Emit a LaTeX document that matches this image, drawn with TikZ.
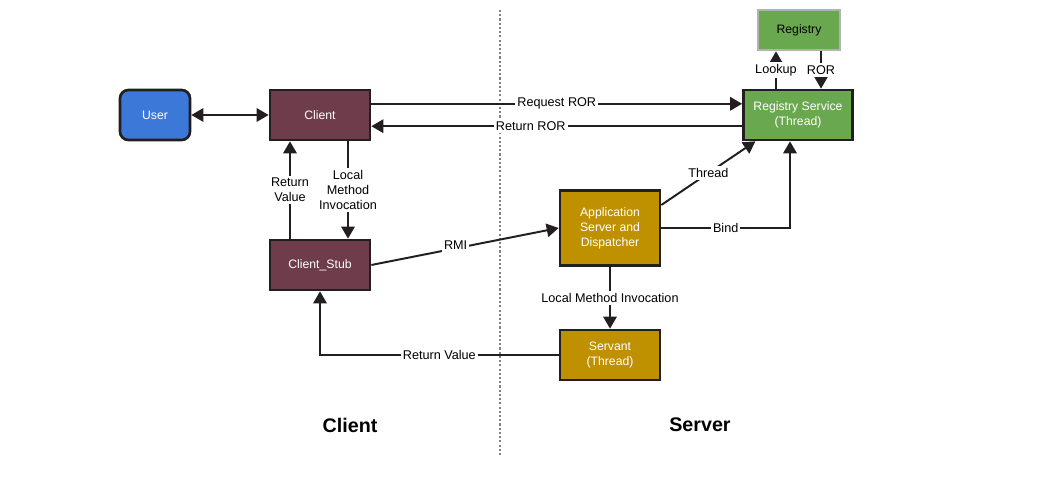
\documentclass[tikz,border=0pt]{standalone}
\usepackage{fontspec}
\setmainfont{Liberation Sans}
\usetikzlibrary{arrows.meta, positioning, calc}
\definecolor{RmiDark}{HTML}{231F20}
\definecolor{RmiBlue}{HTML}{3C78D8}
\definecolor{RmiMaroon}{HTML}{6E3C4A}
\definecolor{RmiGreen}{HTML}{6AA84F}
\definecolor{RmiGold}{HTML}{BF9000}

\begin{document}
\begin{tikzpicture}[x=0.025cm, y=-0.025cm, >={Triangle[length=8.5pt, width=9.5pt]},
        box/.style={rectangle, draw=RmiDark, line width=1.9pt, text=white, align=center,
            font=\fontsize{8.7}{10.6}\selectfont, minimum width=2.5cm, minimum height=1.25cm, inner sep=2pt},
        arrow/.style={->, line width=1.4pt, RmiDark},
        lbl/.style={fill=white, inner sep=1.5pt, text=black, font=\fontsize{9}{10.6}\selectfont, align=center}]

        \useasboundingbox (0,0) rectangle (1054,477);

        \node[box, fill=RmiBlue, rounded corners=6pt, minimum width=1.75cm] (user) at (155,115) {User};
        \node[box, fill=RmiMaroon] (cli) at (320,115) {Client};
        \node[box, fill=RmiMaroon] (stub) at (320,265) {Client\_Stub};

        \node[box, fill=RmiGreen, minimum width=2.725cm] (regsvc) at (798,115) {Registry Service\\(Thread)};
        \node[box, fill=RmiGreen, draw=black!30, text=black, minimum width=2.05cm, minimum height=1cm] (reg) at (799,30) {Registry};
        \node[box, fill=RmiGold, minimum height=1.875cm] (app) at (610,228) {Application\\Server and\\Dispatcher};
        \node[box, fill=RmiGold] (srvnt) at (610,355) {Servant\\(Thread)};

        \draw[black!50, line width=2pt, dash pattern=on 1.5pt off 1.5pt] (500,10) -- (500,455);
        \node[font=\fontsize{14}{16}\selectfont\bfseries] (clilbl) at (350,425) {Client};
        \node[font=\fontsize{14}{16}\selectfont\bfseries] (srvlbl) at (700,425) {Server};

        \draw[arrow, <->] (user) -- (cli);
        \draw[arrow] ([yshift=.28cm]cli.east) -- node[lbl] {Request ROR} ([yshift=.28cm]regsvc.west);
        \draw[arrow] ([yshift=-.28cm]regsvc.west) -- node[lbl, pos=.57] {Return ROR} ([yshift=-.28cm]cli.east);
        \draw[arrow] ([xshift=.7cm]cli.south) -- node[lbl] {Local\\Method\\Invocation} ([xshift=.7cm]stub.north);
        \draw[arrow] ([xshift=-.75cm]stub.north) -- node[lbl] {Return\\Value} ([xshift=-.75cm]cli.south);
        \draw[arrow] (stub.east) -- node[lbl, pos=.45, yshift=2pt] {RMI} (app.west);
        \draw[arrow] ([yshift=.575cm]app.east) -- node[lbl] {Thread} ([xshift=.33cm]regsvc.south west);
        \draw[arrow] (app.east) -| node[lbl, pos=.25] {Bind} ([xshift=-.2cm]regsvc.south);
        \draw[arrow] (app) -- node[lbl] {Local Method Invocation} (srvnt);
        \draw[arrow] (srvnt.west) -| node[lbl, pos=.25] {Return Value} (stub.south);
        \draw[arrow] ([xshift=-.55cm]regsvc.north) -- node[lbl] {Lookup} ([xshift=-.55cm]regsvc.north |- reg.south);
        \draw[arrow] ([xshift=.575cm]regsvc.north |- reg.south) -- node[lbl] {ROR} ([xshift=.575cm]regsvc.north);
    \end{tikzpicture}
\end{document}
